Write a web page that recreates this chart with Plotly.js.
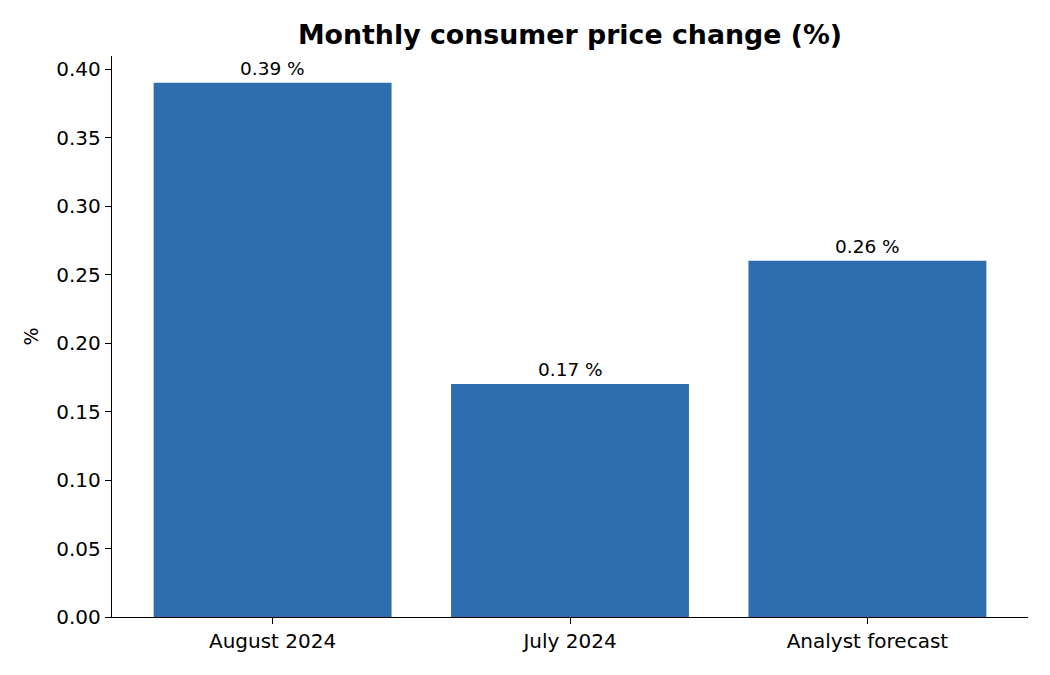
<!DOCTYPE html>
<html>
<head>
<meta charset="utf-8">
<script src="https://cdn.plot.ly/plotly-3.0.1.min.js"></script>
<style>
  html, body { margin: 0; padding: 0; background: #fff; }
  #chart { width: 1050px; height: 675px; }
</style>
</head>
<body>
<div id="chart"></div>
<script>
  // monthly CPI change
  var categories = ["August 2024", "July 2024", "Analyst forecast"];
  var values = [0.39, 0.17, 0.26];
  var yTicks = [0, 0.05, 0.1, 0.15, 0.2, 0.25, 0.3, 0.35, 0.4];

  var font = "DejaVu Sans, sans-serif";

  var labels = values.map(function (v, i) {
    return {
      x: i,
      y: v,
      xref: "x",
      yref: "y",
      text: v.toFixed(2) + " %",
      showarrow: false,
      yanchor: "bottom",
      yshift: 2,
      font: { family: font, size: 18.5, color: "#000" }
    };
  });

  Plotly.newPlot(
    "chart",
    [
      {
        type: "bar",
        x: categories.map(function (c, i) { return i; }),
        y: values,
        width: 0.8,
        marker: { color: "#2e6eb0" },
        hoverinfo: "skip"
      }
    ],
    {
      width: 1050,
      height: 675,
      margin: { l: 112, r: 22, t: 56, b: 58 },
      paper_bgcolor: "#fff",
      plot_bgcolor: "#fff",
      font: { family: font, size: 20, color: "#000" },
      title: {
        text: "<b>Monthly consumer price change (%)</b>",
        font: { family: font, size: 26.8, color: "#000" },
        x: 570 / 1050,
        xanchor: "center",
        y: 1 - 35 / 675,
        yanchor: "middle"
      },
      showlegend: false,
      xaxis: {
        range: [-0.54, 2.54],
        tickvals: [0, 1, 2],
        ticktext: categories,
        ticks: "outside",
        ticklen: 6,
        tickcolor: "#000",
        showline: true,
        linecolor: "#000",
        linewidth: 1.2,
        showgrid: false,
        zeroline: false,
        tickfont: { family: font, size: 20, color: "#000" }
      },
      yaxis: {
        range: [0, 0.4095],
        tickvals: yTicks,
        ticktext: yTicks.map(function (t) { return t.toFixed(2); }),
        ticks: "outside",
        ticklen: 6,
        tickcolor: "#000",
        showline: true,
        linecolor: "#000",
        linewidth: 1.2,
        showgrid: false,
        zeroline: false,
        tickfont: { family: font, size: 20, color: "#000" },
        title: { text: "%", font: { family: font, size: 19, color: "#000" }, standoff: 12 }
      },
      annotations: labels
    },
    { displayModeBar: false, staticPlot: true }
  );
</script>
</body>
</html>
